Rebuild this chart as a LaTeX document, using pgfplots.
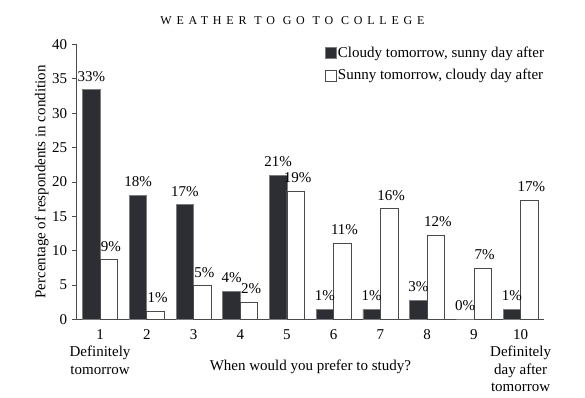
\documentclass[border=0pt]{standalone}
\usepackage{pgfplots}
\pgfplotsset{compat=1.18}
\usepackage{pgfplotstable}
\usepackage{fontspec}
\setmainfont{Liberation Serif}
\definecolor{darkbar}{HTML}{2C2E34}
\definecolor{darkedge}{HTML}{7A7C80}
\definecolor{whiteedge}{HTML}{4A4A4A}
\definecolor{axiscol}{HTML}{4A4A4A}
\newcommand\lblfont{\fontsize{15}{17.5}\selectfont}
\pgfplotstableread{
x d dl w wl
1 33.4 33 8.7 9
2 18.1 18 1.2 1
3 16.7 17 4.9 5
4 4.1 4 2.5 2
5 21.0 21 18.7 19
6 1.45 1 11.1 11
7 1.45 1 16.1 16
8 2.8 3 12.3 12
9 0 0 7.5 7
10 1.45 1 17.3 17
}\datatable
\begin{document}
\lblfont
\begin{tikzpicture}
\useasboundingbox (0,0) rectangle (585pt,398pt);
\node[anchor=base, font=\fontsize{12}{14}\selectfont\addfontfeature{LetterSpace=40}] at (292.5pt,373pt) {WEATHER TO GO TO COLLEGE};
\begin{axis}[
  at={(76.7pt,78.5pt)}, anchor=south west,
  scale only axis, width=467.3pt, height=275pt,
  xmin=0.5, xmax=10.5, ymin=0, ymax=40,
  axis x line*=bottom, axis y line*=left,
  axis line style={draw=axiscol, line width=0.8pt},
  every tick/.style={draw=axiscol, line width=0.8pt},
  tick align=outside,
  major tick length=4.5pt, minor tick length=4.5pt,
  ytick={0,5,...,40},
  xtick={1,...,10},
  xtick style={draw=none},
  minor xtick={0.5,1.5,...,10.5},
  xticklabels={{1\\Definitely\\tomorrow},2,3,4,5,6,7,8,9,{10\\Definitely\\day after\\tomorrow}},
  xticklabel style={align=center, font=\lblfont},
  yticklabel style={font=\lblfont},
  /pgf/number format/assume math mode=true,
  xlabel={When would you prefer to study?},
  xlabel style={at={(axis description cs:0.5,0)}, anchor=center, yshift=-47.2pt, font=\lblfont},
  ylabel={Percentage of respondents in condition},
  ylabel style={at={(axis description cs:-0.075,0.5)}, anchor=center, font=\lblfont},
  ybar=0pt, bar width=17.5pt,
  point meta=explicit symbolic,
  nodes near coords={\pgfplotspointmeta\%},
  every node near coord/.append style={font=\lblfont, yshift=3pt},
  legend style={at={(1.0095,1.003)}, anchor=north east, draw=none, fill=none,
    font=\lblfont, row sep=7.5pt,
    nodes={inner xsep=1.2pt, inner ysep=1pt},
    /tikz/every even column/.append style={column sep=0pt}},
  legend cell align=left,
  legend image code/.code={\draw[#1] (0pt,-5.5pt) rectangle (11pt,5.5pt);},
]
\addplot[fill=darkbar, draw=darkedge, line width=0.8pt] table[x=x, y=d, meta=dl] {\datatable};
\addplot[fill=white, draw=whiteedge, line width=0.8pt, every node near coord/.append style={xshift=2pt}] table[x=x, y=w, meta=wl] {\datatable};
\legend{{Cloudy tomorrow, sunny day after}, {Sunny tomorrow, cloudy day after}}
\end{axis}
\end{tikzpicture}
\end{document}
